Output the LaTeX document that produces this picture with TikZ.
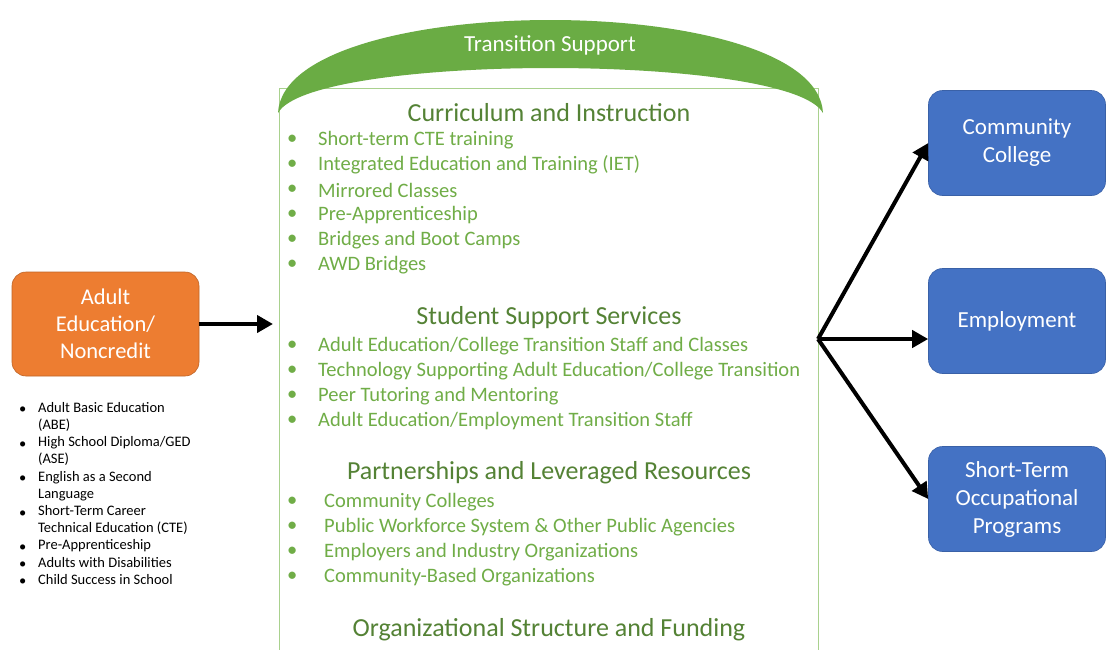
\documentclass[tikz,border=0pt]{standalone}
\usepackage{fontspec}
\setmainfont{Carlito}
\usepackage{tikz}
\usetikzlibrary{arrows.meta,positioning}

\definecolor{headgreen}{RGB}{84,130,53}
\definecolor{itemgreen}{RGB}{112,173,71}
\definecolor{archgreen}{RGB}{106,172,68}
\definecolor{framegreen}{RGB}{169,209,142}
\definecolor{adultorange}{RGB}{237,125,49}
\definecolor{outblue}{RGB}{68,114,196}

\tikzset{
  heading/.style={text=headgreen, font=\fontsize{26}{30}\selectfont},
  item/.style={text=itemgreen, font=\fontsize{20.5}{24}\selectfont, anchor=west, inner sep=0pt},
  adultbox/.style={fill=adultorange, draw=adultorange!80!black, line width=0.6pt, rounded corners=14pt,
    minimum width=187pt, minimum height=104pt, text=white, align=center,
    font=\fontsize{22.5}{27}\selectfont},
  outbox/.style={fill=outblue, draw=outblue!85!black, line width=0.6pt, rounded corners=14pt,
    minimum width=177pt, minimum height=105pt, text=white, align=center,
    font=\fontsize{23}{28}\selectfont},
  small/.style={font=\fontsize{14.5}{17.2}\selectfont, anchor=west, inner sep=0pt},
  flow/.style={-{Triangle[length=16pt,width=17pt]}, line width=4pt}
}

\begin{document}
\begin{tikzpicture}[x=1pt, y=-1pt]
  \useasboundingbox[fill=white] (0,0) rectangle (1106,649);

  % main frame
  \draw[framegreen, line width=0.8pt] (279,660) -- (279,88) -- (818,88) -- (818,660);

  % arch
  \fill[archgreen] (278,113) .. controls (284,-11) and (817,-11) .. (823,113)
    .. controls (790,53) and (311,53) .. (278,113) -- cycle;
  \node[text=white, font=\fontsize{23}{26}\selectfont] (arch) at (550,45) {Transition Support};

  % headings
  \node[heading] (curr) at (549,113) {Curriculum and Instruction};
  \node[heading] (supp) at (549,318) {Student Support Services};
  \node[heading] (part) at (549,473) {Partnerships and Leveraged Resources};
  \node[heading] (org) at (549,630) {Organizational Structure and Funding};

  % items
  \foreach \y/\t in {140/{Short-term CTE training}, 165/{Integrated Education and Training (IET)},
      190/{Mirrored Classes}, 215/{Pre-Apprenticeship}, 240/{Bridges and Boot Camps}, 265/{AWD Bridges},
      346/{Adult Education/College Transition Staff and Classes},
      371/{Technology Supporting Adult Education/College Transition},
      396/{Peer Tutoring and Mentoring}, 421/{Adult Education/Employment Transition Staff}} {
    \node[item] at (287,\y) {•};
    \node[item] at (318,\y) {\t};
  }
  \foreach \y/\t in {502/{Community Colleges}, 527/{Public Workforce System \& Other Public Agencies},
      552/{Employers and Industry Organizations}, 577/{Community-Based Organizations}} {
    \node[item] at (287,\y) {•};
    \node[item] at (324,\y) {\t};
  }

  % left side
  \node[adultbox] (adult) at (105.5,324) {Adult\\Education/\\Noncredit};
  \coordinate (frame in) at (273,324);
  \draw[flow] (adult) -- (frame in);

  \foreach \y in {410,445,479,514,548,565,582} {
    \node[small] at (19,\y) {•};
  }
  \node[small, align=left, anchor=north west] (abe) at (38,402) {Adult Basic Education\\(ABE)\\
    High School Diploma/GED\\(ASE)\\English as a Second\\Language\\Short-Term Career\\
    Technical Education (CTE)\\Pre-Apprenticeship\\Adults with Disabilities\\Child Success in School};

  % right side
  \node[outbox] (cc) at (1017,143) {Community\\College};
  \node[outbox] (emp) at (1017,321) {Employment};
  \node[outbox] (occ) at (1017,499) {Short-Term\\Occupational\\Programs};

  \coordinate (hub) at (818,339);
  \draw[flow] (hub) -- (cc.west);
  \draw[flow] (hub) -- (hub -| emp.west);
  \draw[flow] (hub) -- (occ.west);
\end{tikzpicture}
\end{document}
